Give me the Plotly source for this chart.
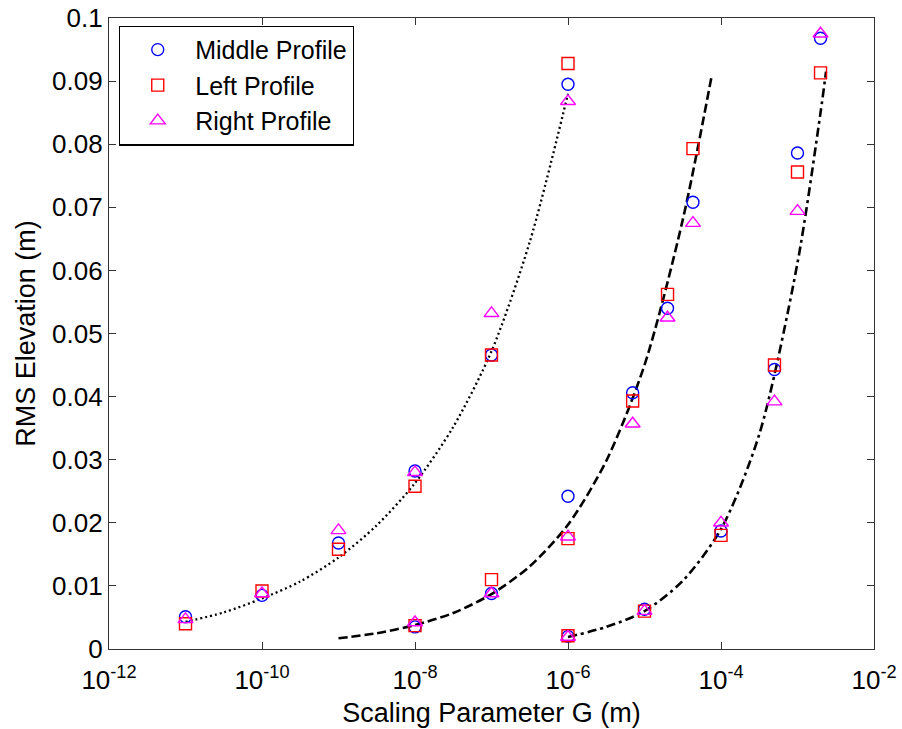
import plotly.graph_objects as go

# Measured RMS elevation for three profiles at each scaling parameter G
g_values = [1e-11, 1e-10, 1e-9, 1e-8, 1e-7, 1e-6,
            1e-8, 1e-7, 1e-6, 7e-6, 2e-5, 4.3e-5,
            1e-6, 1e-5, 1e-4, 5e-4, 1e-3, 2e-3]
middle_profile = [0.0051, 0.0085, 0.0168, 0.0282, 0.0466, 0.0895,
                  0.0035, 0.0088, 0.0242, 0.0406, 0.0540, 0.0708,
                  0.0020, 0.0063, 0.0187, 0.0443, 0.0786, 0.0968]
left_profile = [0.0040, 0.0092, 0.0158, 0.0258, 0.0466, 0.0928,
                0.0037, 0.0110, 0.0175, 0.0393, 0.0562, 0.0793,
                0.0021, 0.0060, 0.0180, 0.0450, 0.0756, 0.0913]
right_profile = [0.0047, 0.0088, 0.0188, 0.0280, 0.0532, 0.0868,
                 0.0042, 0.0088, 0.0178, 0.0357, 0.0525, 0.0675,
                 0.0019, 0.0060, 0.0200, 0.0392, 0.0694, 0.0975]

# Fitted trend curves
fit1_g = [1e-11, 3.16e-11, 1e-10, 3.16e-10, 1e-9, 3.16e-9, 1e-8, 3.16e-8, 1e-7, 3.16e-7, 1e-6]
fit1_rms = [0.0043, 0.0058, 0.0080, 0.0107, 0.0145, 0.0196, 0.0263, 0.0352, 0.0472, 0.0645, 0.0880]
fit2_g = [1e-9, 3.16e-9, 1e-8, 3.16e-8, 1e-7, 3.16e-7, 1e-6, 3.16e-6, 1e-5, 3.16e-5, 7.6e-5]
fit2_rms = [0.0017, 0.0025, 0.0038, 0.0057, 0.0087, 0.0131, 0.0197, 0.0298, 0.0450, 0.0680, 0.0910]
fit3_g = [1e-6, 3.16e-6, 1e-5, 3.16e-5, 1e-4, 3.16e-4, 1e-3, 2e-3, 2.36e-3]
fit3_rms = [0.0019, 0.0035, 0.0060, 0.0108, 0.0190, 0.0340, 0.0612, 0.0850, 0.0915]

x_tick_vals = [1e-12, 1e-10, 1e-8, 1e-6, 1e-4, 1e-2]
x_tick_text = ["10<sup>-12</sup>", "10<sup>-10</sup>", "10<sup>-8</sup>",
               "10<sup>-6</sup>", "10<sup>-4</sup>", "10<sup>-2</sup>"]
y_tick_vals = [0, 0.01, 0.02, 0.03, 0.04, 0.05, 0.06, 0.07, 0.08, 0.09, 0.1]
y_tick_text = ["0", "0.01", "0.02", "0.03", "0.04", "0.05", "0.06", "0.07", "0.08", "0.09", "0.1"]

FONT = "Arial, Liberation Sans, sans-serif"

fig = go.Figure()

fit_styles = [
    (fit1_g, fit1_rms, "2px,3px", 2.3),
    (fit2_g, fit2_rms, "9px,4px", 2.6),
    (fit3_g, fit3_rms, "9px,4px,3px,4px", 2.6),
]
for xs, ys, dash, w in fit_styles:
    fig.add_trace(go.Scatter(
        x=xs, y=ys, mode="lines", showlegend=False, hoverinfo="skip",
        line=dict(color="black", width=w, dash=dash, shape="spline", smoothing=0.8),
    ))

series = [
    ("Middle Profile", middle_profile, "circle-open", "#0000FF", 12),
    ("Left Profile", left_profile, "square-open", "#FF0000", 12),
    ("Right Profile", right_profile, "triangle-up-open", "#FF00FF", 13),
]
for name, vals, sym, col, sz in series:
    fig.add_trace(go.Scatter(
        x=g_values, y=vals, mode="markers", name=name,
        marker=dict(symbol=sym, size=sz, color=col, line=dict(color=col, width=1.4)),
    ))

axis_common = dict(
    showline=True, linecolor="#333333", linewidth=1.3, mirror="ticks",
    ticks="inside", ticklen=7, tickwidth=1.3, tickcolor="#333333",
    showgrid=False, zeroline=False, automargin=False,
    tickfont=dict(family=FONT, size=26, color="black"),
)

fig.update_layout(
    width=902, height=729,
    margin=dict(l=109, r=28, t=18, b=80),
    paper_bgcolor="white", plot_bgcolor="white",
    font=dict(family=FONT, size=26, color="black"),
    xaxis=dict(
        type="log", range=[-12, -2],
        tickvals=x_tick_vals, ticktext=x_tick_text,
        ticklabelstandoff=8,
        title=dict(text="Scaling Parameter G (m)", font=dict(family=FONT, size=27), standoff=8),
        **axis_common,
    ),
    yaxis=dict(
        range=[0, 0.1],
        tickvals=y_tick_vals, ticktext=y_tick_text,
        title=dict(text="RMS Elevation (m)", font=dict(family=FONT, size=27), standoff=8),
        **axis_common,
    ),
    legend=dict(
        x=0.013, y=0.988, xanchor="left", yanchor="top",
        bgcolor="white", bordercolor="black", borderwidth=1.3,
        font=dict(family=FONT, size=25, color="black"),
        itemwidth=65, tracegroupgap=0,
    ),
)

fig.write_html("out.html")
